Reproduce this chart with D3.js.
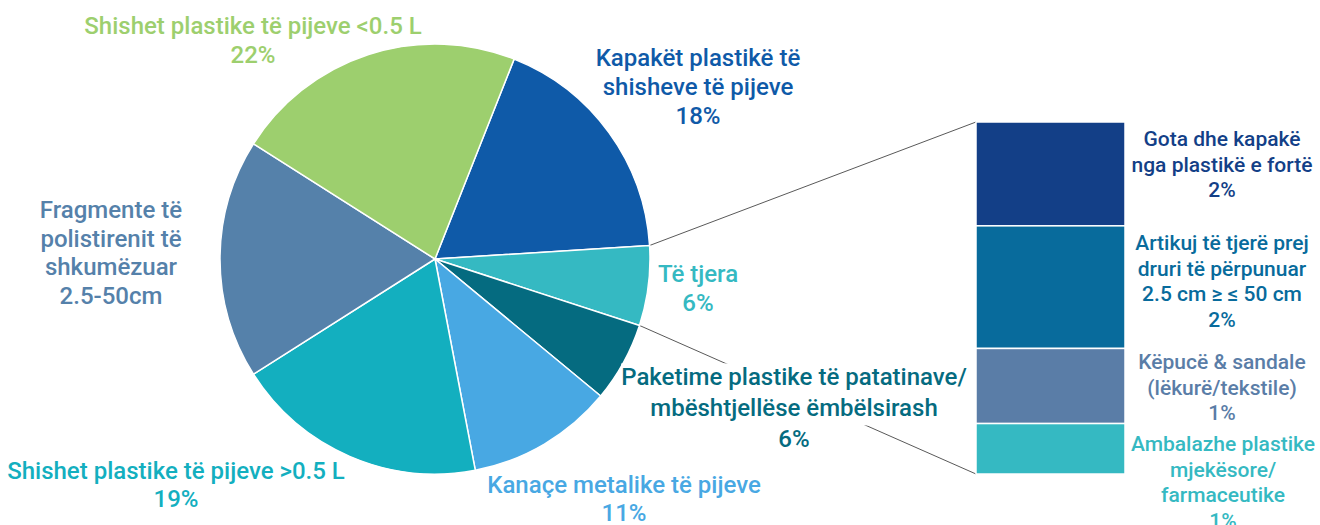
<!DOCTYPE html>
<html><head><meta charset="utf-8">
<script src="https://cdn.jsdelivr.net/npm/d3@7/dist/d3.min.js"></script>
<style>
html,body{margin:0;padding:0;background:#fff;}
svg{display:block;font-family:Roboto, "Noto Sans", sans-serif;}
</style></head><body>
<svg id="chart" width="1320" height="525"></svg>
<script>
// ---- data ----
const pieCategories = [
  "Kapakët plastikë të shisheve të pijeve",
  "Të tjera",
  "Paketime plastike të patatinave/ mbështjellëse ëmbëlsirash",
  "Kanaçe metalike të pijeve",
  "Shishet plastike të pijeve >0.5 L",
  "Fragmente të polistirenit të shkumëzuar 2.5-50cm",
  "Shishet plastike të pijeve <0.5 L"
];
const pieValues = [18, 6, 6, 11, 19, 18, 22];
const pieLabelLines = [
  ["Kapakët plastikë të", "shisheve të pijeve", "18%"],
  ["Të tjera", "6%"],
  ["Paketime plastike të patatinave/", "mbështjellëse ëmbëlsirash", "6%"],
  ["Kanaçe metalike të pijeve", "11%"],
  ["Shishet plastike të pijeve >0.5 L", "19%"],
  ["Fragmente të", "polistirenit të", "shkumëzuar", "2.5-50cm"],
  ["Shishet plastike të pijeve <0.5 L", "22%"]
];
const barCategories = [
  "Gota dhe kapakë nga plastikë e fortë",
  "Artikuj të tjerë prej druri të përpunuar 2.5 cm ≥ ≤ 50 cm",
  "Këpucë & sandale (lëkurë/tekstile)",
  "Ambalazhe plastike mjekësore/ farmaceutike"
];
const barValues = [1.77, 2.09, 1.28, 0.86];
const barLabelLines = [
  ["Gota dhe kapakë", "nga plastikë e fortë", "2%"],
  ["Artikuj të tjerë prej", "druri të përpunuar", "2.5 cm ≥ ≤ 50 cm", "2%"],
  ["Këpucë & sandale", "(lëkurë/tekstile)", "1%"],
  ["Ambalazhe plastike", "mjekësore/", "farmaceutike", "1%"]
];

// ---- styles / layout ----
const pieColors = ["#0f5aa8", "#35b9c2", "#056b80", "#48a8e3", "#13afbf", "#5581aa", "#9dcf6e"];
const barColors = ["#133f87", "#086b9c", "#5a7da7", "#35b9c2"];
const pieLabelPos = [[698,58],[698,274],[794,377],[624,485],[176,471],[111,210],[253,26]];
const pieLineH = [29, 29, 31, 28, 28, 28.5, 29];
const barLabelPos = [[1222,139],[1222,243],[1222,362],[1223,444]];
const barLineH = 25.5;
const cx = 435, cy = 259, R = 215;
const startAngle = 0.06 * 2 * Math.PI;

const svg = d3.select("#chart");

const pie = d3.pie().sort(null).value(d => d)
  .startAngle(startAngle).endAngle(startAngle + 2 * Math.PI);
const arcs = pie(pieValues);
const arc = d3.arc().innerRadius(0).outerRadius(R);

const bx0 = 976, bx1 = 1125;
const total = d3.sum(barValues);
const y = d3.scaleLinear().domain([0, total]).range([122, 474]);
let cum = 0;
const stack = barValues.map(v => { const s = {y0: cum, y1: cum + v, v}; cum += v; return s; });

// connector lines from "Të tjera" slice edges to bar
const other = arcs[1];
const pt = a => [cx + R * Math.sin(a), cy - R * Math.cos(a)];
const p0 = pt(other.startAngle), p1 = pt(other.endAngle);
svg.append("line").attr("x1", p0[0]).attr("y1", p0[1]).attr("x2", bx0).attr("y2", y(0))
  .attr("stroke", "#595959").attr("stroke-width", 1);
svg.append("line").attr("x1", p1[0]).attr("y1", p1[1]).attr("x2", bx0).attr("y2", y(total))
  .attr("stroke", "#595959").attr("stroke-width", 1);

// pie
svg.append("g").attr("transform", `translate(${cx},${cy})`)
  .selectAll("path").data(arcs).join("path")
  .attr("d", arc).attr("fill", (d, i) => pieColors[i])
  .attr("stroke", "#fff").attr("stroke-width", 1.5);

// bar
svg.append("g").selectAll("rect").data(stack).join("rect")
  .attr("x", bx0).attr("width", bx1 - bx0)
  .attr("y", d => y(d.y0)).attr("height", d => y(d.y1) - y(d.y0))
  .attr("fill", (d, i) => barColors[i])
  .attr("stroke", "#fff").attr("stroke-width", 1.5);

// labels
function drawLabel(lines, pos, lh, color, size, bg) {
  const g = svg.append("g");
  const t = g.append("text").attr("text-anchor", "middle")
    .attr("fill", color).attr("font-size", size).attr("font-weight", 500);
  lines.forEach((l, k) => {
    t.append("tspan").attr("x", pos[0]).attr("y", pos[1] + k * lh).attr("dy", "0.35em").text(l);
  });
  if (bg) {
    const bb = t.node().getBBox();
    g.insert("rect", "text").attr("x", bb.x).attr("y", bb.y)
      .attr("width", bb.width).attr("height", (lines.length - 1) * lh)
      .attr("fill", "#fff");
  }
}
pieLabelLines.forEach((lines, i) =>
  drawLabel(lines, pieLabelPos[i], pieLineH[i], pieColors[i], 24, i === 2));
barLabelLines.forEach((lines, i) =>
  drawLabel(lines, barLabelPos[i], barLineH, barColors[i], 21, false));
</script>
</body></html>
